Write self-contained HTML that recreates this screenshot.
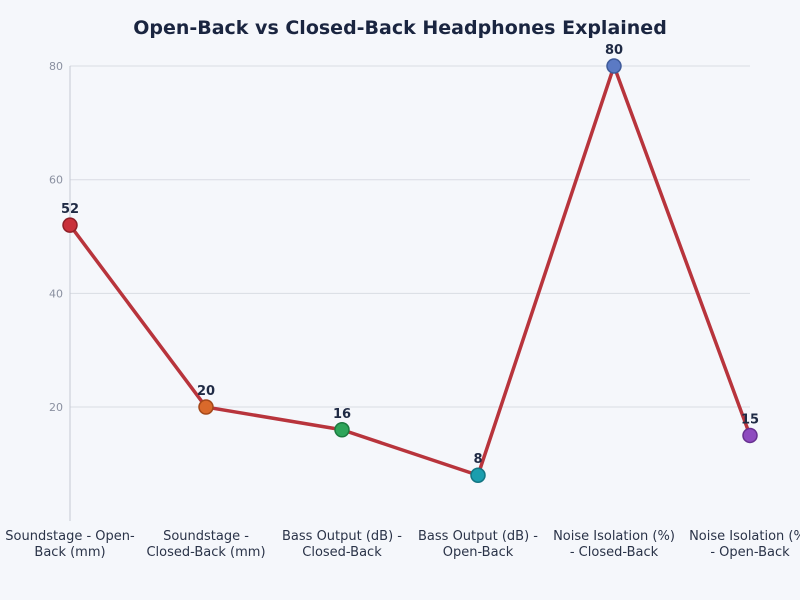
<!DOCTYPE html>
<html><head><meta charset="utf-8"><style>
body{margin:0;background:#f5f7fb;}
svg{display:block;font-family:"DejaVu Sans","Liberation Sans",sans-serif;}
</style></head><body>
<svg id="chart" width="800" height="600" viewBox="0 0 800 600">
<rect width="800" height="600" fill="#f5f7fb"/>
<text x="400" y="34" text-anchor="middle" font-size="19" font-weight="bold" fill="#1a2540">Open-Back vs Closed-Back Headphones Explained</text>
<g id="grid"></g>
<line x1="70" y1="66" x2="70" y2="521" stroke="#c5c9d3" stroke-width="1"/>
<g id="series"></g>
<g id="xlabels"></g>
</svg>
<script>
const categories=[["Soundstage - Open-","Back (mm)"],["Soundstage -","Closed-Back (mm)"],["Bass Output (dB) -","Closed-Back"],["Bass Output (dB) -","Open-Back"],["Noise Isolation (%)","- Closed-Back"],["Noise Isolation (%)","- Open-Back"]];
const values=[52,20,16,8,80,15];
const yTicks=[20,40,60,80];
const pointColors=["#c9303a","#d9692b","#2ea55a","#1b9eae","#5b7ac4","#8e4bbf"];
const pointStrokes=["#8e1f27","#a3481a","#1d7a40","#137582","#3e5a99","#673190"];
const NS="http://www.w3.org/2000/svg";
function xs(i){return 70+i*136;}
function ys(v){return 520.7-v*5.683;}
function mk(tag,attrs,parent){const e=document.createElementNS(NS,tag);for(const k in attrs)e.setAttribute(k,attrs[k]);parent.appendChild(e);return e;}
const grid=document.getElementById('grid');
yTicks.forEach(t=>{
  const l=mk('line',{x1:70,x2:750,y1:ys(t),y2:ys(t),stroke:'#d9dce3','stroke-width':1},grid);
  
  
  const tx=mk('text',{x:63,y:ys(t)+4,'text-anchor':'end','font-size':11,fill:'#8a90a0'},grid);
  tx.textContent=t;
  
  
});
const s=document.getElementById('series');
const pl=mk('polyline',{points:values.map((v,i)=>xs(i)+','+ys(v)).join(' '),fill:'none',stroke:'#b8343c','stroke-width':3.5,'stroke-linejoin':'round'},s);


values.forEach((v,i)=>{
  const c=mk('circle',{cx:xs(i),cy:ys(v),r:7,fill:pointColors[i],stroke:pointStrokes[i],'stroke-width':1.5},s);
  
  
  const t=mk('text',{x:xs(i),y:ys(v)-12,'text-anchor':'middle','font-size':13,'font-weight':'bold',fill:'#1f2a44'},s);
  t.textContent=v;
  
  
});
const xl=document.getElementById('xlabels');
categories.forEach((c,i)=>{
  c.forEach((line,j)=>{
    const t=mk('text',{x:xs(i),y:540+j*16,'text-anchor':'middle','font-size':13,fill:'#2a3348'},xl);
    t.textContent=line;
    
    
  });
});
</script>
</body></html>
